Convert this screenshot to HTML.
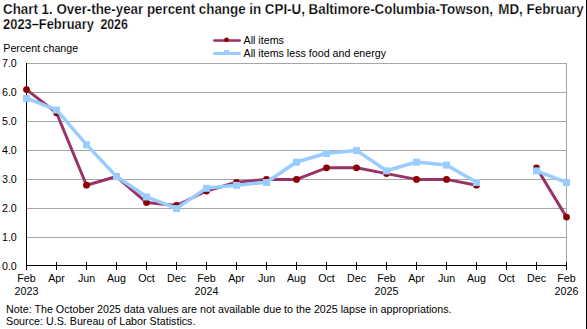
<!DOCTYPE html>
<html><head><meta charset="utf-8"><style>
html,body{margin:0;padding:0;background:#fff;width:587px;height:329px;overflow:hidden}
svg{display:block}
.t{font-family:"Liberation Sans",sans-serif;font-size:10.7px;fill:#000}
.n{font-family:"Liberation Sans",sans-serif;font-size:10.72px;fill:#000}
.b{font-family:"Liberation Sans",sans-serif;font-size:14px;font-weight:bold;fill:#000;stroke:#fff;stroke-width:0.25px;paint-order:fill stroke}
</style></head><body>
<svg width="587" height="329" viewBox="0 0 587 329">
<line x1="26" y1="63.5" x2="567" y2="63.5" stroke="#a6a6a6" stroke-width="1"/>
<line x1="26" y1="92.5" x2="567" y2="92.5" stroke="#a6a6a6" stroke-width="1"/>
<line x1="26" y1="121.5" x2="567" y2="121.5" stroke="#a6a6a6" stroke-width="1"/>
<line x1="26" y1="150.5" x2="567" y2="150.5" stroke="#a6a6a6" stroke-width="1"/>
<line x1="26" y1="179.5" x2="567" y2="179.5" stroke="#a6a6a6" stroke-width="1"/>
<line x1="26" y1="208.5" x2="567" y2="208.5" stroke="#a6a6a6" stroke-width="1"/>
<line x1="26" y1="237.5" x2="567" y2="237.5" stroke="#a6a6a6" stroke-width="1"/>
<line x1="566.5" y1="63" x2="566.5" y2="265" stroke="#a6a6a6" stroke-width="1"/>
<line x1="26.5" y1="63" x2="26.5" y2="270" stroke="#000" stroke-width="1"/>
<line x1="26" y1="265.5" x2="567" y2="265.5" stroke="#000" stroke-width="1"/>
<line x1="26.5" y1="262" x2="26.5" y2="270" stroke="#000" stroke-width="1"/>
<line x1="56.5" y1="262" x2="56.5" y2="270" stroke="#000" stroke-width="1"/>
<line x1="86.5" y1="262" x2="86.5" y2="270" stroke="#000" stroke-width="1"/>
<line x1="116.5" y1="262" x2="116.5" y2="270" stroke="#000" stroke-width="1"/>
<line x1="146.5" y1="262" x2="146.5" y2="270" stroke="#000" stroke-width="1"/>
<line x1="176.5" y1="262" x2="176.5" y2="270" stroke="#000" stroke-width="1"/>
<line x1="206.5" y1="262" x2="206.5" y2="270" stroke="#000" stroke-width="1"/>
<line x1="236.5" y1="262" x2="236.5" y2="270" stroke="#000" stroke-width="1"/>
<line x1="266.5" y1="262" x2="266.5" y2="270" stroke="#000" stroke-width="1"/>
<line x1="296.5" y1="262" x2="296.5" y2="270" stroke="#000" stroke-width="1"/>
<line x1="326.5" y1="262" x2="326.5" y2="270" stroke="#000" stroke-width="1"/>
<line x1="356.5" y1="262" x2="356.5" y2="270" stroke="#000" stroke-width="1"/>
<line x1="386.5" y1="262" x2="386.5" y2="270" stroke="#000" stroke-width="1"/>
<line x1="416.5" y1="262" x2="416.5" y2="270" stroke="#000" stroke-width="1"/>
<line x1="446.5" y1="262" x2="446.5" y2="270" stroke="#000" stroke-width="1"/>
<line x1="476.5" y1="262" x2="476.5" y2="270" stroke="#000" stroke-width="1"/>
<line x1="506.5" y1="262" x2="506.5" y2="270" stroke="#000" stroke-width="1"/>
<line x1="536.5" y1="262" x2="536.5" y2="270" stroke="#000" stroke-width="1"/>
<line x1="566.5" y1="262" x2="566.5" y2="270" stroke="#000" stroke-width="1"/>
<polyline points="26.5,89.6 56.5,112.8 86.5,185.2 116.5,176.5 146.5,202.6 176.5,205.5 206.5,191.0 236.5,182.3 266.5,179.4 296.5,179.4 326.5,167.8 356.5,167.8 386.5,173.6 416.5,179.4 446.5,179.4 476.5,185.2" fill="none" stroke="#993366" stroke-width="3" stroke-linejoin="round" stroke-linecap="round"/>
<polyline points="536.5,167.8 566.5,217.1" fill="none" stroke="#993366" stroke-width="3" stroke-linejoin="round" stroke-linecap="round"/>
<circle cx="26.5" cy="89.6" r="3.4" fill="#8B0000"/>
<circle cx="56.5" cy="112.8" r="3.4" fill="#8B0000"/>
<circle cx="86.5" cy="185.2" r="3.4" fill="#8B0000"/>
<circle cx="116.5" cy="176.5" r="3.4" fill="#8B0000"/>
<circle cx="146.5" cy="202.6" r="3.4" fill="#8B0000"/>
<circle cx="176.5" cy="205.5" r="3.4" fill="#8B0000"/>
<circle cx="206.5" cy="191.0" r="3.4" fill="#8B0000"/>
<circle cx="236.5" cy="182.3" r="3.4" fill="#8B0000"/>
<circle cx="266.5" cy="179.4" r="3.4" fill="#8B0000"/>
<circle cx="296.5" cy="179.4" r="3.4" fill="#8B0000"/>
<circle cx="326.5" cy="167.8" r="3.4" fill="#8B0000"/>
<circle cx="356.5" cy="167.8" r="3.4" fill="#8B0000"/>
<circle cx="386.5" cy="173.6" r="3.4" fill="#8B0000"/>
<circle cx="416.5" cy="179.4" r="3.4" fill="#8B0000"/>
<circle cx="446.5" cy="179.4" r="3.4" fill="#8B0000"/>
<circle cx="476.5" cy="185.2" r="3.4" fill="#8B0000"/>
<circle cx="536.5" cy="167.8" r="3.4" fill="#8B0000"/>
<circle cx="566.5" cy="217.1" r="3.4" fill="#8B0000"/>
<polyline points="26.5,98.2 56.5,109.8 86.5,144.6 116.5,176.5 146.5,196.8 176.5,208.4 206.5,188.1 236.5,185.2 266.5,182.3 296.5,162.0 326.5,153.3 356.5,150.4 386.5,170.8 416.5,162.0 446.5,164.9 476.5,182.3" fill="none" stroke="#99CCFF" stroke-width="3.5" stroke-linejoin="round" stroke-linecap="round"/>
<polyline points="536.5,170.8 566.5,182.3" fill="none" stroke="#99CCFF" stroke-width="3.5" stroke-linejoin="round" stroke-linecap="round"/>
<rect x="23.0" y="95.0" width="7" height="7" fill="#99CCFF"/>
<rect x="53.0" y="106.5" width="7" height="7" fill="#99CCFF"/>
<rect x="83.0" y="141.3" width="7" height="7" fill="#99CCFF"/>
<rect x="113.0" y="173.2" width="7" height="7" fill="#99CCFF"/>
<rect x="143.0" y="193.5" width="7" height="7" fill="#99CCFF"/>
<rect x="173.0" y="205.1" width="7" height="7" fill="#99CCFF"/>
<rect x="203.0" y="184.8" width="7" height="7" fill="#99CCFF"/>
<rect x="233.0" y="181.9" width="7" height="7" fill="#99CCFF"/>
<rect x="263.0" y="179.0" width="7" height="7" fill="#99CCFF"/>
<rect x="293.0" y="158.7" width="7" height="7" fill="#99CCFF"/>
<rect x="323.0" y="150.0" width="7" height="7" fill="#99CCFF"/>
<rect x="353.0" y="147.1" width="7" height="7" fill="#99CCFF"/>
<rect x="383.0" y="167.4" width="7" height="7" fill="#99CCFF"/>
<rect x="413.0" y="158.7" width="7" height="7" fill="#99CCFF"/>
<rect x="443.0" y="161.6" width="7" height="7" fill="#99CCFF"/>
<rect x="473.0" y="179.0" width="7" height="7" fill="#99CCFF"/>
<rect x="533.0" y="167.4" width="7" height="7" fill="#99CCFF"/>
<rect x="563.0" y="179.0" width="7" height="7" fill="#99CCFF"/>
<text x="16.8" y="270.2" text-anchor="end" class="t">0.0</text>
<text x="16.8" y="241.2" text-anchor="end" class="t">1.0</text>
<text x="16.8" y="212.2" text-anchor="end" class="t">2.0</text>
<text x="16.8" y="183.2" text-anchor="end" class="t">3.0</text>
<text x="16.8" y="154.2" text-anchor="end" class="t">4.0</text>
<text x="16.8" y="125.2" text-anchor="end" class="t">5.0</text>
<text x="16.8" y="96.2" text-anchor="end" class="t">6.0</text>
<text x="16.8" y="67.2" text-anchor="end" class="t">7.0</text>
<text x="26.5" y="281.6" text-anchor="middle" class="t">Feb</text>
<text x="56.5" y="281.6" text-anchor="middle" class="t">Apr</text>
<text x="86.5" y="281.6" text-anchor="middle" class="t">Jun</text>
<text x="116.5" y="281.6" text-anchor="middle" class="t">Aug</text>
<text x="146.5" y="281.6" text-anchor="middle" class="t">Oct</text>
<text x="176.5" y="281.6" text-anchor="middle" class="t">Dec</text>
<text x="206.5" y="281.6" text-anchor="middle" class="t">Feb</text>
<text x="236.5" y="281.6" text-anchor="middle" class="t">Apr</text>
<text x="266.5" y="281.6" text-anchor="middle" class="t">Jun</text>
<text x="296.5" y="281.6" text-anchor="middle" class="t">Aug</text>
<text x="326.5" y="281.6" text-anchor="middle" class="t">Oct</text>
<text x="356.5" y="281.6" text-anchor="middle" class="t">Dec</text>
<text x="386.5" y="281.6" text-anchor="middle" class="t">Feb</text>
<text x="416.5" y="281.6" text-anchor="middle" class="t">Apr</text>
<text x="446.5" y="281.6" text-anchor="middle" class="t">Jun</text>
<text x="476.5" y="281.6" text-anchor="middle" class="t">Aug</text>
<text x="506.5" y="281.6" text-anchor="middle" class="t">Oct</text>
<text x="536.5" y="281.6" text-anchor="middle" class="t">Dec</text>
<text x="566.5" y="281.6" text-anchor="middle" class="t">Feb</text>
<text x="26.5" y="294.7" text-anchor="middle" class="t">2023</text>
<text x="206.5" y="294.7" text-anchor="middle" class="t">2024</text>
<text x="386.5" y="294.7" text-anchor="middle" class="t">2025</text>
<text x="566.5" y="294.7" text-anchor="middle" class="t">2026</text>
<line x1="214.3" y1="40.5" x2="239.7" y2="40.5" stroke="#993366" stroke-width="2.6" stroke-linecap="round"/>
<circle cx="226.5" cy="39.8" r="2.4" fill="#8B0000"/>
<line x1="214.3" y1="53.5" x2="239.7" y2="53.5" stroke="#99CCFF" stroke-width="2.9" stroke-linecap="round"/>
<rect x="224" y="50.2" width="5" height="3.5" fill="#99CCFF"/>
<text x="243.5" y="43.8" class="t">All items</text>
<text x="243.5" y="57" class="t">All items less food and energy</text>
<text x="3.0" y="13.6" class="b" id="t1a" textLength="490" lengthAdjust="spacingAndGlyphs">Chart 1. Over-the-year percent change in CPI-U, Baltimore-Columbia-Towson,</text>
<text x="498.3" y="13.6" class="b" id="t1b" textLength="85.5" lengthAdjust="spacingAndGlyphs">MD, February</text>
<text x="3.1" y="28.7" class="b" id="t2a" textLength="90.8" lengthAdjust="spacingAndGlyphs">2023–February</text>
<text x="100.4" y="28.7" class="b" id="t2b" textLength="27.4" lengthAdjust="spacingAndGlyphs">2026</text>
<text x="3.3" y="51.8" class="t">Percent change</text>
<text x="6" y="312.5" class="n">Note: The October 2025 data values are not available due to the 2025 lapse in appropriations.</text>
<text x="6" y="324.6" class="n">Source: U.S. Bureau of Labor Statistics.</text>
<line x1="586.5" y1="0" x2="586.5" y2="329" stroke="#000" stroke-width="1"/>
</svg>
</body></html>
